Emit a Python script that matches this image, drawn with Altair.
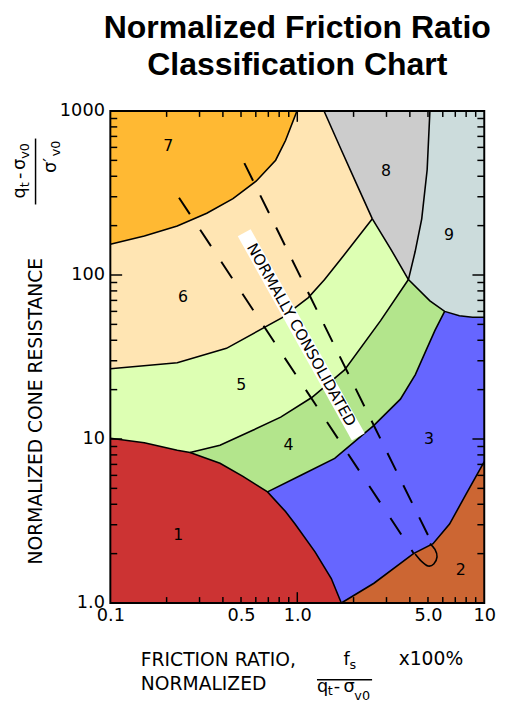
import altair as alt
import pandas as pd

# ---------------- axis values ----------------
X_LABEL_VALUES = [0.1, 0.5, 1.0, 5.0, 10.0]
Y_LABEL_VALUES = [1.0, 10.0, 100.0, 1000.0]
X_MINOR = [0.2, 0.3, 0.4, 0.5, 0.6, 0.7, 0.8, 0.9, 2, 3, 4, 5, 6, 7, 8, 9]
X_MAJOR = [1.0]
Y_MINOR = [2, 3, 4, 5, 6, 7, 8, 9, 20, 30, 40, 50, 60, 70, 80, 90,
           200, 300, 400, 500, 600, 700, 800, 900]
Y_MAJOR = [10.0, 100.0]

# ---------------- zone boundary curves ----------------
# zone 1 upper boundary (left edge -> bottom edge)
B1_X = [0.1, 0.152, 0.228, 0.267, 0.386, 0.512, 0.693, 0.865, 0.975, 1.244, 1.52, 1.72]
B1_Y = [10.1, 9.5, 8.55, 8.28, 7.11, 5.92, 4.76, 3.61, 3.02, 2.05, 1.41, 1.0]
# zone 2 boundary (bottom edge -> right edge)
B2_X = [1.72, 2.57, 4.18, 5.32, 6.52, 7.98, 10.0]
B2_Y = [1.0, 1.32, 2.0, 2.30, 3.03, 4.59, 7.28]
# zone 4 / zone 3 boundary
B43_X = [0.693, 1.059, 1.585, 2.57, 3.56, 4.28, 4.89, 5.45, 6.14]
B43_Y = [4.76, 6.05, 7.62, 12.1, 17.5, 24.7, 34.8, 45.9, 60.0]
# zone 9 lower boundary (junction -> right edge)
B9_X = [3.93, 5.12, 6.14, 7.36, 8.65, 10.0]
B9_Y = [93.8, 69.5, 60.0, 56.5, 55.2, 55.2]
# zone 5 / zone 4 boundary
B54_X = [0.267, 0.386, 0.578, 0.815, 1.195, 1.79, 2.79, 3.93]
B54_Y = [8.28, 9.16, 11.3, 13.6, 17.9, 26.4, 52.7, 93.8]
# zone 6 / zone 5 boundary
B65_X = [0.1, 0.228, 0.418, 0.83, 1.146, 1.40, 1.72, 2.52]
B65_Y = [26.8, 29.2, 35.7, 55.0, 72.8, 93.8, 126.0, 220.0]
# zone 7 / zone 6 boundary
B76_X = [0.1, 0.152, 0.228, 0.328, 0.453, 0.602, 0.766, 0.865, 0.996]
B76_Y = [154.0, 173.0, 199.0, 238.0, 292.0, 373.0, 501.0, 661.0, 1000.0]
# zone 6 / zone 8 boundary
B68_X = [1.39, 1.72, 2.10, 2.52]
B68_Y = [1000.0, 578.0, 348.0, 220.0]
# zone 8 / zone 5 boundary
B85_X = [2.52, 3.15, 3.93]
B85_Y = [220.0, 145.0, 93.8]
# zone 8 / zone 9 boundary
B89_X = [5.12, 4.95, 4.63, 4.27, 3.93]
B89_Y = [1000.0, 438.0, 220.0, 139.0, 93.8]

# normally consolidated band (dashed lines + loop)
DASH_L_X = [0.233, 4.18]
DASH_L_Y = [296.0, 2.02]
DASH_R_X = [0.521, 5.01]
DASH_R_Y = [481.0, 2.58]
LOOP_X = [4.27, 4.63, 5.01, 5.37, 5.59, 5.45, 5.12]
LOOP_Y = [1.99, 1.79, 1.68, 1.73, 1.91, 2.12, 2.30]
NC_BOX_X = [0.520, 2.12]
NC_BOX_Y = [181.0, 10.3]
NC_TEXT_X = [1.051]
NC_TEXT_Y = [43.1]

# zones
ZONE_IDS = ["1", "2", "3", "4", "5", "6", "7", "8", "9"]
ZONE_COLORS = ["#CC3333", "#CC6633", "#6666FF", "#B3E58C", "#DDFFB3",
               "#FFE5B3", "#FFB933", "#CCCCCC", "#CCDCDC"]
LABEL_X = [0.231, 7.48, 5.07, 0.897, 0.501, 0.245, 0.204, 2.98, 6.47]
LABEL_Y = [2.59, 1.58, 10.0, 9.12, 21.2, 73.5, 608.0, 430.0, 175.0]

# ---------------- build polygons ----------------
def pts(xs, ys):
    return list(zip(xs, ys))

def rev(p):
    return p[::-1]

b1 = pts(B1_X, B1_Y)
b1a, b1b, b1c = b1[:4], b1[3:7], b1[6:]
b2 = pts(B2_X, B2_Y)
b43 = pts(B43_X, B43_Y)
b9 = pts(B9_X, B9_Y)
b9a, b9b = b9[:3], b9[2:]
b54 = pts(B54_X, B54_Y)
b65 = pts(B65_X, B65_Y)
b76 = pts(B76_X, B76_Y)
b68 = pts(B68_X, B68_Y)
b85 = pts(B85_X, B85_Y)
b89 = pts(B89_X, B89_Y)

zones = {
    "1": [(0.1, 1.0)] + b1,
    "2": b2 + [(10.0, 1.0)],
    "3": b1c + b2 + rev(b9b) + rev(b43),
    "4": b1b + b43 + rev(b9a) + rev(b54),
    "5": b1a + b54 + rev(b85) + rev(b65),
    "6": b65 + rev(b68) + rev(b76),
    "7": [(0.1, 1000.0)] + b76,
    "8": b68 + b85 + rev(b89),
    "9": b89 + b9 + [(10.0, 1000.0)],
}
poly_rows = []
for z, p in zones.items():
    for i, (x, y) in enumerate(p):
        poly_rows.append({"zone": z, "i": i, "x": x, "y": y})
poly_df = pd.DataFrame(poly_rows)

curves = {"b1": b1, "b2": b2, "b43": b43, "b9": b9, "b54": b54, "b65": b65,
          "b76": b76, "b68": b68, "b85": b85, "b89": b89}
curve_rows = []
for c, p in curves.items():
    for i, (x, y) in enumerate(p):
        curve_rows.append({"c": c, "i": i, "x": x, "y": y})
curve_df = pd.DataFrame(curve_rows)

W, H = 380, 500
FONT = "DejaVu Sans"

xscale = alt.Scale(type="log", domain=[0.1, 10], nice=False)
yscale = alt.Scale(type="log", domain=[1, 1000], nice=False)
xaxis = alt.Axis(values=X_LABEL_VALUES,
                 labelExpr="datum.value >= 10 ? '10' : format(datum.value, '.1f')",
                 ticks=False, domain=False, grid=False, title=None,
                 labelFont=FONT, labelFontSize=18, labelColor="black",
                 labelPadding=4, labelFlush=False, labelOverlap=False)
yaxis = alt.Axis(values=Y_LABEL_VALUES,
                 labelExpr="datum.value <= 1 ? '1.0' : format(datum.value, 'd')",
                 ticks=False, domain=False, grid=False, title=None,
                 labelFont=FONT, labelFontSize=18, labelColor="black",
                 labelPadding=6, labelFlush=False, labelOverlap=False)

def X(f):
    return alt.X(f, type="quantitative", scale=xscale, axis=xaxis)

def Y(f):
    return alt.Y(f, type="quantitative", scale=yscale, axis=yaxis)

layers = []

# filled zones
layers.append(
    alt.Chart(poly_df).mark_line(filled=True, strokeWidth=0).encode(
        x=X("x"), y=Y("y"),
        color=alt.Color("zone:N", scale=alt.Scale(domain=ZONE_IDS, range=ZONE_COLORS), legend=None),
        order=alt.Order("i:Q"),
        detail="zone:N",
    )
)
# boundaries
layers.append(
    alt.Chart(curve_df).mark_line(color="black", strokeWidth=1.6).encode(
        x=X("x"), y=Y("y"), detail="c:N", order=alt.Order("i:Q")
    )
)
# dashed lines
layers.append(
    alt.Chart(pd.DataFrame({"x": DASH_L_X, "y": DASH_L_Y})).mark_line(
        color="black", strokeWidth=2, strokeDash=[20, 19]).encode(x=X("x"), y=Y("y"))
)
layers.append(
    alt.Chart(pd.DataFrame({"x": DASH_R_X, "y": DASH_R_Y})).mark_line(
        color="black", strokeWidth=2, strokeDash=[20, 16.5]).encode(x=X("x"), y=Y("y"))
)
layers.append(
    alt.Chart(pd.DataFrame({"x": LOOP_X, "y": LOOP_Y, "i": list(range(len(LOOP_X)))})).mark_line(
        color="black", strokeWidth=1.6, interpolate="cardinal").encode(
        x=X("x"), y=Y("y"), order=alt.Order("i:Q"))
)
# white box behind the label
layers.append(
    alt.Chart(pd.DataFrame({"x": [NC_BOX_X[0]], "y": [NC_BOX_Y[0]],
                            "x2": [NC_BOX_X[1]], "y2": [NC_BOX_Y[1]]})).mark_rule(
        color="white", strokeWidth=15, strokeCap="butt").encode(
        x=X("x"), y=Y("y"), x2="x2:Q", y2="y2:Q")
)
layers.append(
    alt.Chart(pd.DataFrame({"x": NC_TEXT_X, "y": NC_TEXT_Y})).mark_text(
        text="NORMALLY CONSOLIDATED", angle=60.75, font=FONT, fontSize=15.5,
        align="center", baseline="middle", color="black").encode(x=X("x"), y=Y("y"))
)
# zone numbers
layers.append(
    alt.Chart(pd.DataFrame({"x": LABEL_X, "y": LABEL_Y, "t": ZONE_IDS})).mark_text(
        font=FONT, fontSize=16, color="black", align="center", baseline="middle").encode(
        x=X("x"), y=Y("y"), text="t:N")
)

# inward ticks on all four sides
def xticks(vals, length):
    d = pd.DataFrame({"v": vals})
    bottom = alt.Chart(d).mark_rule(color="black", strokeWidth=1.5).encode(
        x=X("v"), y=alt.value(H), y2=alt.value(H - length))
    top = alt.Chart(d).mark_rule(color="black", strokeWidth=1.5).encode(
        x=X("v"), y=alt.value(0), y2=alt.value(length))
    return [bottom, top]

def yticks(vals, length):
    d = pd.DataFrame({"v": vals})
    left = alt.Chart(d).mark_rule(color="black", strokeWidth=1.5).encode(
        y=Y("v"), x=alt.value(0), x2=alt.value(length))
    right = alt.Chart(d).mark_rule(color="black", strokeWidth=1.5).encode(
        y=Y("v"), x=alt.value(W), x2=alt.value(W - length))
    return [left, right]

layers += xticks(X_MINOR, 6) + xticks(X_MAJOR, 11)
layers += yticks(Y_MINOR, 7) + yticks(Y_MAJOR, 12)

one = pd.DataFrame({"a": [0]})
# frame
layers.append(
    alt.Chart(one).mark_rect(fillOpacity=0, stroke="black", strokeWidth=2).encode(
        x=alt.value(0), x2=alt.value(W), y=alt.value(0), y2=alt.value(H))
)

def txt(text, x, y, size, align="left", angle=0, weight="normal", font=FONT):
    return alt.Chart(one).mark_text(
        text=text, font=font, fontSize=size, fontWeight=weight, align=align,
        baseline="alphabetic", angle=angle, color="black").encode(
        x=alt.value(x), y=alt.value(y))

# title
layers.append(txt("Normalized Friction Ratio", 190, -74, 32.5, align="center",
                  weight="bold", font="Liberation Sans"))
layers.append(txt("Classification Chart", 190, -37, 32.5, align="center",
                  weight="bold", font="Liberation Sans"))

# x-axis title
DY = 3
layers.append(txt("FRICTION RATIO,", 31, 561 + DY, 19))
layers.append(txt("NORMALIZED", 31, 585 + DY, 19))
layers.append(txt("x100%", 293, 560 + DY, 19))
layers.append(txt("f", 237, 560 + DY, 18))
layers.append(txt("s", 243, 564 + DY, 13))
layers.append(txt("q", 210, 587 + DY, 18))
layers.append(txt("t", 221, 591 + DY, 13))
layers.append(txt("-", 227, 587 + DY, 18))
layers.append(txt("σ", 237, 587 + DY, 18))
layers.append(txt("v0", 248, 596 + DY, 13))
layers.append(
    alt.Chart(one).mark_rule(color="black", strokeWidth=1.5).encode(
        x=alt.value(210), x2=alt.value(266), y=alt.value(575 + DY))
)

# y-axis title (rotated)
DV = -8
layers.append(txt("NORMALIZED CONE RESISTANCE", -69, 305, 19, align="center", angle=270))
layers.append(txt("q", -87, 97 + DV, 18, angle=270))
layers.append(txt("t", -83, 85.6 + DV, 13, angle=270))
layers.append(txt("-", -87, 77 + DV, 18, angle=270))
layers.append(txt("σ", -87, 68 + DV, 18, angle=270))
layers.append(txt("v0", -83, 56.5 + DV, 13, angle=270))
layers.append(
    alt.Chart(one).mark_rule(color="black", strokeWidth=1.5).encode(
        x=alt.value(-76), y=alt.value(36 + DV), y2=alt.value(103 + DV))
)
layers.append(txt("σ′", -55, 71 + DV, 18, angle=270))
layers.append(txt("v0", -51, 54 + DV, 13, angle=270))

chart = alt.layer(*layers).properties(
    width=W, height=H,
    autosize=alt.AutoSizeParams(type="none"),
    padding={"left": 104, "top": 99, "right": 16, "bottom": 99},
    background="white",
).configure_view(stroke="transparent")

chart.save("out.html", embed_options={"renderer": "svg", "actions": False})
